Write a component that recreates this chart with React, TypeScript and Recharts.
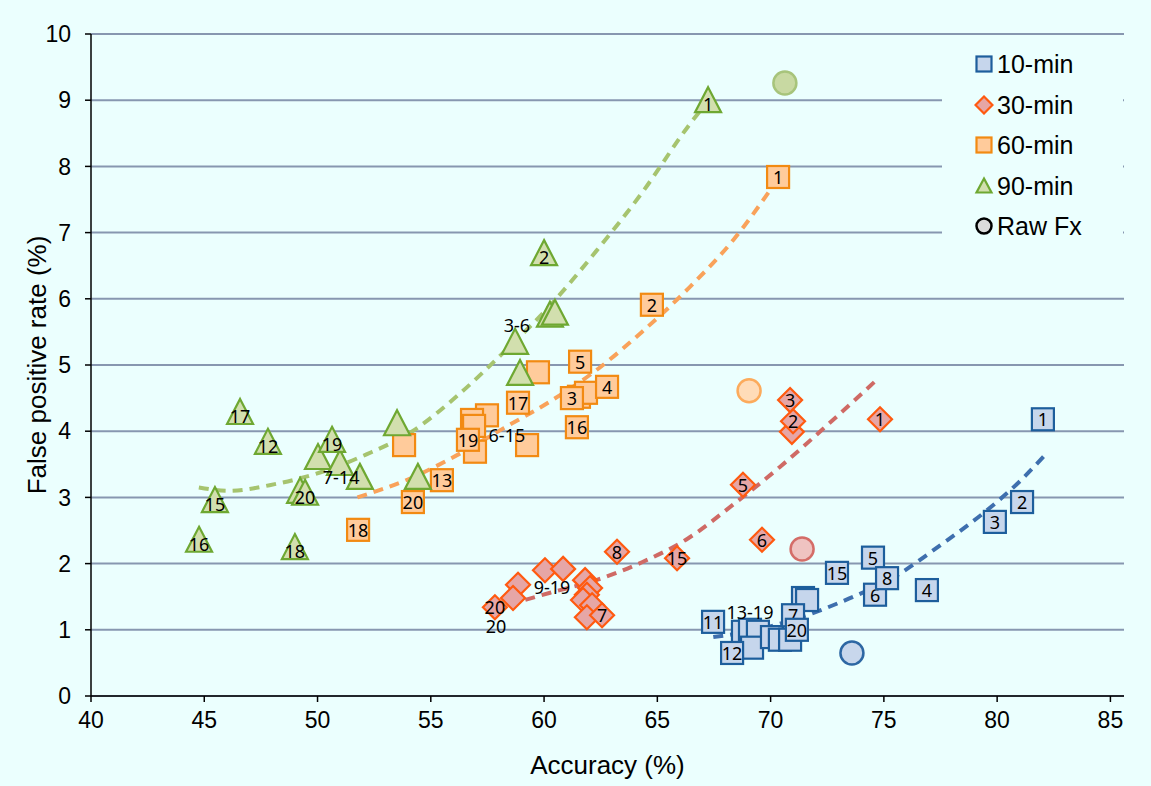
import React from 'react'
import { ComposedChart, Scatter, Line, XAxis, YAxis, CartesianGrid } from 'recharts'

type Pt = { x: number; y: number; n?: string }

const xTicks = [40, 45, 50, 55, 60, 65, 70, 75, 80, 85]
const yTicks = [0, 1, 2, 3, 4, 5, 6, 7, 8, 9, 10]

// 10-min windows (n = window number shown in the marker)
const tenMin: Pt[] = [
  { x: 68.78, y: 0.97 }, { x: 69.09, y: 1.0 }, { x: 69.44, y: 0.97 }, { x: 69.18, y: 0.73 },
  { x: 70.06, y: 0.89 }, { x: 70.41, y: 0.85 }, { x: 70.86, y: 0.85 },
  { x: 71.43, y: 1.48 }, { x: 71.61, y: 1.45 },
  { x: 82.02, y: 4.18, n: '1' }, { x: 81.1, y: 2.93, n: '2' }, { x: 79.9, y: 2.63, n: '3' },
  { x: 76.9, y: 1.6, n: '4' }, { x: 74.52, y: 2.09, n: '5' }, { x: 74.61, y: 1.53, n: '6' },
  { x: 70.99, y: 1.22, n: '7' }, { x: 75.14, y: 1.78, n: '8' }, { x: 67.46, y: 1.12, n: '11' },
  { x: 68.3, y: 0.65, n: '12' }, { x: 72.93, y: 1.86, n: '15' }, { x: 71.16, y: 1.0, n: '20' },
]

const thirtyMin: Pt[] = [
  { x: 70.94, y: 3.99 }, { x: 60.04, y: 1.9 }, { x: 60.84, y: 1.92 }, { x: 58.85, y: 1.68 },
  { x: 58.63, y: 1.48 }, { x: 61.81, y: 1.75 }, { x: 62.03, y: 1.63 }, { x: 61.89, y: 1.53 },
  { x: 61.72, y: 1.45 }, { x: 62.12, y: 1.37 }, { x: 61.89, y: 1.19 },
  { x: 74.83, y: 4.18, n: '1' }, { x: 70.99, y: 4.15, n: '2' }, { x: 70.86, y: 4.47, n: '3' },
  { x: 68.78, y: 3.19, n: '5' }, { x: 69.62, y: 2.36, n: '6' }, { x: 62.56, y: 1.22, n: '7' },
  { x: 63.22, y: 2.18, n: '8' }, { x: 65.87, y: 2.08, n: '15' }, { x: 57.83, y: 1.34, n: '20' },
]

const sixtyMin: Pt[] = [
  { x: 59.73, y: 4.89 }, { x: 61.54, y: 4.52 }, { x: 61.85, y: 4.58 }, { x: 57.48, y: 4.24 },
  { x: 56.82, y: 4.17 }, { x: 56.91, y: 4.08 }, { x: 56.95, y: 3.69 }, { x: 59.25, y: 3.79 },
  { x: 53.82, y: 3.79 },
  { x: 70.33, y: 7.84, n: '1' }, { x: 64.76, y: 5.91, n: '2' }, { x: 61.23, y: 4.5, n: '3' },
  { x: 62.78, y: 4.67, n: '4' }, { x: 61.59, y: 5.05, n: '5' }, { x: 55.49, y: 3.26, n: '13' },
  { x: 61.45, y: 4.06, n: '16' }, { x: 58.85, y: 4.43, n: '17' }, { x: 51.79, y: 2.51, n: '18' },
  { x: 56.64, y: 3.87, n: '19' }, { x: 54.21, y: 2.93, n: '20' },
]

const ninetyMin: Pt[] = [
  { x: 49.23, y: 3.1 }, { x: 50.02, y: 3.61 }, { x: 50.99, y: 3.52 }, { x: 51.87, y: 3.31 },
  { x: 53.51, y: 4.12 }, { x: 54.43, y: 3.31 }, { x: 58.72, y: 5.35 }, { x: 58.94, y: 4.88 },
  { x: 60.26, y: 5.76 }, { x: 60.48, y: 5.79 },
  { x: 67.24, y: 9.0, n: '1' }, { x: 60.0, y: 6.69, n: '2' }, { x: 47.81, y: 3.84, n: '12' },
  { x: 45.47, y: 2.96, n: '15' }, { x: 44.77, y: 2.36, n: '16' }, { x: 46.58, y: 4.29, n: '17' },
  { x: 49.0, y: 2.25, n: '18' }, { x: 50.64, y: 3.87, n: '19' }, { x: 49.45, y: 3.07, n: '20' },
]

// raw Fx reference points
const rawTen: Pt[] = [{ x: 73.59, y: 0.65 }]
const rawThirty: Pt[] = [{ x: 71.39, y: 2.22 }]
const rawSixty: Pt[] = [{ x: 69.05, y: 4.61 }]
const rawNinety: Pt[] = [{ x: 70.63, y: 9.26 }]

// group labels
const groupLabels: Pt[] = [
  { x: 58.8, y: 5.6, n: '3-6' }, { x: 51.04, y: 3.31, n: '7-14' }, { x: 58.36, y: 3.94, n: '6-15' },
  { x: 60.35, y: 1.65, n: '9-19' }, { x: 69.09, y: 1.27, n: '13-19' }, { x: 57.88, y: 1.06, n: '20' },
]

// trend lines
const tenTrend: Pt[] = [
  { x: 67.47, y: 0.89 }, { x: 69.39, y: 1.0 }, { x: 71.42, y: 1.2 }, { x: 73.45, y: 1.47 }, { x: 75.47, y: 1.8 },
  { x: 77.5, y: 2.28 }, { x: 79.53, y: 2.8 }, { x: 81.05, y: 3.26 }, { x: 82.06, y: 3.62 },
]
const thirtyTrend: Pt[] = [
  { x: 58.45, y: 1.38 }, { x: 60.27, y: 1.56 }, { x: 62.3, y: 1.75 }, { x: 64.32, y: 2.02 }, { x: 66.35, y: 2.38 },
  { x: 68.38, y: 2.9 }, { x: 70.41, y: 3.46 }, { x: 72.43, y: 4.07 }, { x: 74.76, y: 4.8 },
]
const sixtyTrend: Pt[] = [
  { x: 51.76, y: 3.0 }, { x: 54.19, y: 3.3 }, { x: 56.22, y: 3.65 }, { x: 58.24, y: 4.05 }, { x: 60.27, y: 4.45 },
  { x: 62.3, y: 4.92 }, { x: 64.32, y: 5.5 }, { x: 66.35, y: 6.15 }, { x: 68.38, y: 6.9 }, { x: 70.2, y: 7.75 },
]
const ninetyTrend: Pt[] = [
  { x: 44.76, y: 3.15 }, { x: 46.08, y: 3.1 }, { x: 48.11, y: 3.2 }, { x: 50.14, y: 3.38 }, { x: 52.16, y: 3.65 },
  { x: 54.19, y: 4.0 }, { x: 56.22, y: 4.55 }, { x: 58.24, y: 5.2 }, { x: 60.27, y: 5.9 }, { x: 62.3, y: 6.72 },
  { x: 64.32, y: 7.6 }, { x: 66.35, y: 8.6 }, { x: 67.26, y: 9.0 },
]

const BG = '#ebfffe'
const FONT = '"Liberation Sans", Arial, sans-serif'
const LABEL_FONT = '"Noto Sans", "Liberation Sans", sans-serif'

type Kind = 'square' | 'diamond' | 'triangle' | 'circle'

function drawShape(kind: Kind, cx: number, cy: number, fill: string, stroke: string, s: number) {
  if (kind === 'square')
    return <rect x={cx - s / 2} y={cy - s / 2} width={s} height={s} fill={fill} stroke={stroke} strokeWidth={2.2} />
  if (kind === 'diamond') {
    const h = s / 2
    return <polygon points={`${cx},${cy - h} ${cx + h},${cy} ${cx},${cy + h} ${cx - h},${cy}`} fill={fill} stroke={stroke} strokeWidth={2.2} />
  }
  if (kind === 'triangle') {
    const h = s / 2
    return <polygon points={`${cx},${cy - h} ${cx + h},${cy + h - 1} ${cx - h},${cy + h - 1}`} fill={fill} stroke={stroke} strokeWidth={2.2} />
  }
  return <circle cx={cx} cy={cy} r={s / 2} fill={fill} stroke={stroke} strokeWidth={2.5} />
}

const marker = (kind: Kind, fill: string, stroke: string, size: number) => (props: any) => {
  const { cx, cy, payload } = props
  if (cx == null || cy == null) return <g />
  const dy = kind === 'triangle' ? 4 : 0
  return (
    <g>
      {drawShape(kind, cx, cy, fill, stroke, size)}
      {payload?.n ? (
        <text x={cx} y={cy + dy} textAnchor="middle" dominantBaseline="central" fontSize={18} fontFamily={LABEL_FONT} fill="#000">
          {payload.n}
        </text>
      ) : null}
    </g>
  )
}

const textOnly = (props: any) => {
  const { cx, cy, payload } = props
  if (cx == null || cy == null) return <g />
  return (
    <text x={cx} y={cy} textAnchor="middle" dominantBaseline="central" fontSize={18} fontFamily={LABEL_FONT} fill="#000">
      {payload.n}
    </text>
  )
}

const legendItems: { name: string; kind: Kind; fill: string; stroke: string }[] = [
  { name: '10-min', kind: 'square', fill: '#c6d6ec', stroke: '#1d5e9c' },
  { name: '30-min', kind: 'diamond', fill: '#e6a6a6', stroke: '#ff5a10' },
  { name: '60-min', kind: 'square', fill: '#ffcb9b', stroke: '#f28a12' },
  { name: '90-min', kind: 'triangle', fill: '#d2dfae', stroke: '#6ea832' },
  { name: 'Raw Fx', kind: 'circle', fill: '#dcdcdc', stroke: '#000' },
]

function ChartLegend() {
  return (
    <div style={{ position: 'absolute', left: 942, top: 37, width: 181, height: 228, background: BG }}>
      {legendItems.map((it, i) => (
        <div key={it.name} style={{ position: 'absolute', left: 32, top: 12 + i * 40.5, height: 30, display: 'flex', alignItems: 'center' }}>
          <svg width={20} height={20} style={{ marginRight: 3 }}>
            {drawShape(it.kind, 10, 10, it.fill, it.stroke, it.kind === 'diamond' ? 17 : 15)}
          </svg>
          <span style={{ fontFamily: FONT, fontSize: 25, color: '#000', lineHeight: '30px' }}>{it.name}</span>
        </div>
      ))}
    </div>
  )
}

const dash = { strokeWidth: 4, strokeDasharray: '10 7', dot: false as const, activeDot: false as const, type: 'monotone' as const, dataKey: 'y', isAnimationActive: false }

export default function App() {
  return (
    <div style={{ position: 'absolute', left: 0, top: 0, width: 1151, height: 786, background: BG, fontFamily: FONT }}>
      <ComposedChart width={1151} height={786} margin={{ top: 34, right: 27, bottom: 0, left: 0 }}>
        <CartesianGrid vertical={false} stroke="#8797b0" strokeWidth={2} />
        <XAxis
          type="number"
          dataKey="x"
          domain={[40, 85.6]}
          ticks={xTicks}
          interval={0}
          height={90}
          tick={{ fontSize: 23, fill: '#000', fontFamily: FONT }}
          tickMargin={10}
          tickLine={{ stroke: '#000', strokeWidth: 1.5 }}
          axisLine={{ stroke: '#000', strokeWidth: 1.5 }}
          label={{ value: 'Accuracy (%)', position: 'center', dy: 24, fontSize: 26, fill: '#000', fontFamily: FONT }}
        />
        <YAxis
          type="number"
          dataKey="y"
          domain={[0, 10]}
          ticks={yTicks}
          interval={0}
          width={91}
          tick={{ fontSize: 23, fill: '#000', fontFamily: FONT }}
          tickMargin={14}
          tickLine={{ stroke: '#000', strokeWidth: 1.5 }}
          axisLine={{ stroke: '#000', strokeWidth: 1.5 }}
          label={{ value: 'False positive rate (%)', angle: -90, position: 'center', dx: -9, fontSize: 26, fill: '#000', fontFamily: FONT }}
        />
        <Scatter name="10-min" data={tenMin} shape={marker('square', '#c6d6ec', '#1d5e9c', 22)} isAnimationActive={false} />
        <Scatter name="30-min" data={thirtyMin} shape={marker('diamond', '#e6a6a6', '#ff5a10', 24)} isAnimationActive={false} />
        <Scatter name="60-min" data={sixtyMin} shape={marker('square', '#ffcb9b', '#f28a12', 22)} isAnimationActive={false} />
        <Scatter name="90-min" data={ninetyMin} shape={marker('triangle', '#d2dfae', '#6ea832', 26)} isAnimationActive={false} />
        <Scatter name="raw10" data={rawTen} shape={marker('circle', '#c8d7ec', '#2d67a3', 23)} isAnimationActive={false} />
        <Scatter name="raw30" data={rawThirty} shape={marker('circle', '#efc3c1', '#d46d68', 23)} isAnimationActive={false} />
        <Scatter name="raw60" data={rawSixty} shape={marker('circle', '#ffdcb8', '#fcab5c', 23)} isAnimationActive={false} />
        <Scatter name="raw90" data={rawNinety} shape={marker('circle', '#c8d9a2', '#a7c47b', 23)} isAnimationActive={false} />
        <Line data={tenTrend} stroke="#3e6fae" {...dash} />
        <Line data={thirtyTrend} stroke="#cf6a65" {...dash} />
        <Line data={sixtyTrend} stroke="#f9a25a" {...dash} />
        <Line data={ninetyTrend} stroke="#a6c46f" {...dash} />
        <Scatter name="groups" data={groupLabels} shape={textOnly} isAnimationActive={false} />
      </ComposedChart>
      <ChartLegend />
    </div>
  )
}
